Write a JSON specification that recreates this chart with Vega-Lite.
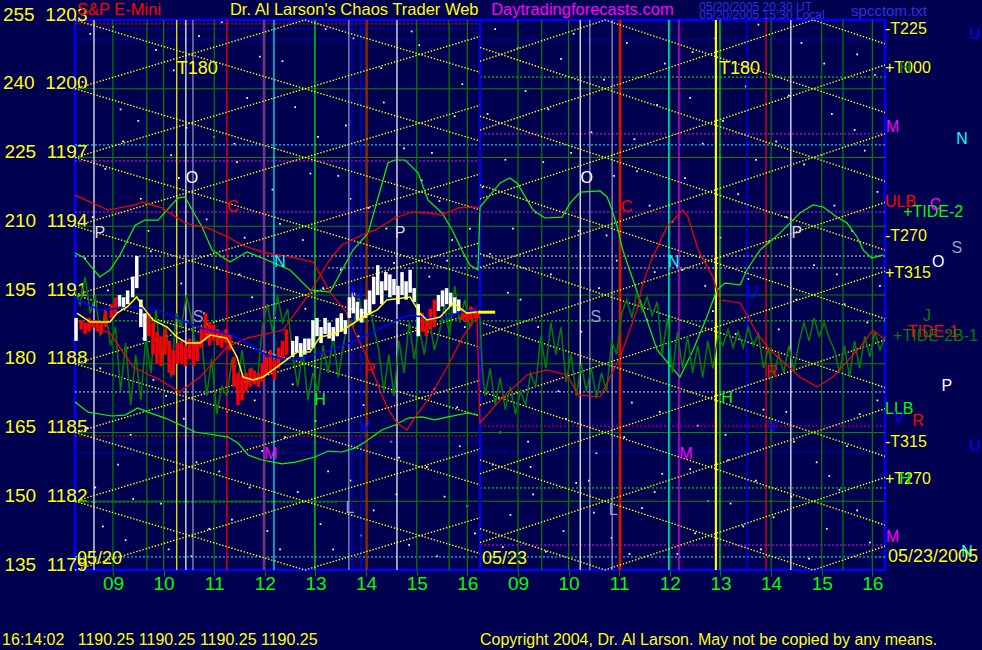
{
"$schema": "https://vega.github.io/schema/vega-lite/v6.json",
"width": 810, "height": 550,
"autosize": {"type": "none"},
"padding": {"left": 75, "top": 20, "right": 97, "bottom": 80},
"background": "#000050",
"config": {"view": {"stroke": "#0000ff", "strokeWidth": 2.5}, "font": "Liberation Sans", "text": {"font": "Liberation Sans"}},
"resolve": {"axis": {"x": "independent", "y": "independent"}},
"datasets": {
"stars": [{"t":0.3,"p":1202.4},{"t":0.9,"p":1199.1},{"t":1.6,"p":1201.7},{"t":2.2,"p":1198.3},{"t":2.9,"p":1202.9},{"t":3.4,"p":1199.6},{"t":4.1,"p":1201.2},{"t":4.8,"p":1197.9},{"t":5.5,"p":1202.2},{"t":6.1,"p":1199.4},{"t":6.8,"p":1201.9},{"t":7.5,"p":1198.8},{"t":8.3,"p":1202.6},{"t":8.9,"p":1199.9},{"t":9.6,"p":1201.3},{"t":10.2,"p":1198.1},{"t":10.9,"p":1202.0},{"t":11.5,"p":1199.3},{"t":12.2,"p":1201.6},{"t":12.8,"p":1198.6},{"t":13.5,"p":1202.8},{"t":14.1,"p":1199.7},{"t":14.8,"p":1201.1},{"t":15.4,"p":1198.2},{"t":15.8,"p":1200.6},
{"t":0.6,"p":1196.5},{"t":1.3,"p":1195.2},{"t":1.9,"p":1197.1},{"t":2.6,"p":1194.3},{"t":3.2,"p":1196.8},{"t":3.9,"p":1195.6},{"t":4.5,"p":1193.4},{"t":5.2,"p":1196.2},{"t":5.8,"p":1194.8},{"t":6.5,"p":1197.4},{"t":7.2,"p":1195.1},{"t":7.8,"p":1193.9},{"t":8.5,"p":1196.9},{"t":9.1,"p":1194.6},{"t":9.8,"p":1197.2},{"t":10.5,"p":1193.6},{"t":11.1,"p":1196.4},{"t":11.8,"p":1194.2},{"t":12.4,"p":1197.6},{"t":13.1,"p":1195.4},{"t":13.7,"p":1193.3},{"t":14.4,"p":1196.7},{"t":15.0,"p":1194.9},{"t":15.6,"p":1197.3},
{"t":0.2,"p":1192.6},{"t":0.8,"p":1190.4},{"t":1.5,"p":1192.9},{"t":2.1,"p":1191.5},{"t":2.8,"p":1192.2},{"t":3.5,"p":1190.9},{"t":4.2,"p":1192.7},{"t":4.9,"p":1191.3},{"t":5.6,"p":1189.2},{"t":6.3,"p":1192.4},{"t":7.0,"p":1191.8},{"t":7.7,"p":1189.6},{"t":8.2,"p":1192.8},{"t":8.8,"p":1190.8},{"t":9.4,"p":1191.9},{"t":10.0,"p":1189.4},{"t":10.7,"p":1192.5},{"t":11.3,"p":1189.9},{"t":12.0,"p":1192.1},{"t":12.6,"p":1190.3},{"t":13.3,"p":1191.7},{"t":13.9,"p":1189.5},{"t":14.6,"p":1192.3},{"t":15.2,"p":1190.6},{"t":15.9,"p":1191.4},
{"t":0.5,"p":1187.8},{"t":1.1,"p":1184.9},{"t":1.8,"p":1186.6},{"t":2.4,"p":1183.7},{"t":3.0,"p":1185.9},{"t":3.7,"p":1184.2},{"t":4.3,"p":1187.1},{"t":5.0,"p":1183.3},{"t":5.7,"p":1186.2},{"t":6.4,"p":1183.9},{"t":7.1,"p":1186.9},{"t":7.6,"p":1184.4},{"t":8.4,"p":1185.0},{"t":9.0,"p":1183.5},{"t":9.7,"p":1185.6},{"t":10.3,"p":1184.1},{"t":11.0,"p":1186.3},{"t":11.6,"p":1183.2},{"t":12.3,"p":1185.3},{"t":12.9,"p":1183.8},{"t":13.6,"p":1186.0},{"t":14.2,"p":1184.6},{"t":14.9,"p":1183.1},{"t":15.5,"p":1185.8},
{"t":0.4,"p":1182.6},{"t":1.0,"p":1180.3},{"t":1.7,"p":1181.9},{"t":2.3,"p":1179.6},{"t":3.1,"p":1181.2},{"t":3.8,"p":1180.7},{"t":4.4,"p":1182.4},{"t":5.1,"p":1179.9},{"t":5.9,"p":1181.6},{"t":6.6,"p":1180.1},{"t":7.3,"p":1182.2},{"t":7.9,"p":1180.6},{"t":8.6,"p":1181.4},{"t":9.3,"p":1179.8},{"t":9.9,"p":1182.8},{"t":10.6,"p":1180.4},{"t":11.2,"p":1181.7},{"t":11.9,"p":1179.7},{"t":12.5,"p":1182.0},{"t":13.2,"p":1180.9},{"t":13.8,"p":1181.3},{"t":14.5,"p":1179.5},{"t":15.1,"p":1182.5},{"t":15.7,"p":1180.2},
{"t":0.15,"p":1200.3},{"t":0.75,"p":1202.7},{"t":1.25,"p":1198.6},{"t":1.95,"p":1200.8},{"t":2.45,"p":1202.3},{"t":3.15,"p":1197.6},{"t":3.65,"p":1201.4},{"t":4.35,"p":1199.2},{"t":4.95,"p":1202.6},{"t":5.35,"p":1198.4},{"t":6.05,"p":1200.9},{"t":6.65,"p":1202.5},{"t":7.05,"p":1197.2},{"t":7.65,"p":1200.2},{"t":8.15,"p":1198.9},{"t":8.75,"p":1201.8},{"t":9.35,"p":1199.1},{"t":9.85,"p":1202.4},{"t":10.45,"p":1200.4},{"t":11.05,"p":1197.8},{"t":11.65,"p":1201.1},{"t":12.15,"p":1199.6},{"t":12.65,"p":1202.2},{"t":13.25,"p":1200.1},{"t":13.85,"p":1197.7},{"t":14.35,"p":1202.0},{"t":14.95,"p":1198.9},{"t":15.45,"p":1201.5},
{"t":0.35,"p":1194.4},{"t":0.95,"p":1197.7},{"t":1.45,"p":1193.8},{"t":2.05,"p":1196.1},{"t":2.75,"p":1197.9},{"t":3.35,"p":1193.5},{"t":4.05,"p":1194.1},{"t":4.65,"p":1196.3},{"t":5.45,"p":1195.2},{"t":6.15,"p":1193.9},{"t":6.85,"p":1196.0},{"t":7.45,"p":1193.4},{"t":8.05,"p":1195.7},{"t":8.65,"p":1193.9},{"t":9.25,"p":1196.8},{"t":9.95,"p":1193.8},{"t":10.65,"p":1196.2},{"t":11.35,"p":1194.9},{"t":12.05,"p":1196.1},{"t":12.75,"p":1193.5},{"t":13.45,"p":1196.9},{"t":14.05,"p":1194.4},{"t":14.75,"p":1197.1},{"t":15.35,"p":1193.8},{"t":15.85,"p":1195.5},
{"t":0.65,"p":1191.2},{"t":1.35,"p":1189.1},{"t":2.55,"p":1190.2},{"t":3.25,"p":1191.9},{"t":3.95,"p":1190.0},{"t":4.55,"p":1190.4},{"t":5.25,"p":1192.1},{"t":6.75,"p":1190.6},{"t":7.35,"p":1192.5},{"t":8.55,"p":1191.1},{"t":9.15,"p":1189.6},{"t":10.35,"p":1191.3},{"t":11.45,"p":1192.0},{"t":12.45,"p":1191.4},{"t":13.05,"p":1189.3},{"t":14.25,"p":1190.8},{"t":15.05,"p":1191.9},{"t":15.65,"p":1189.8},
{"t":0.25,"p":1185.2},{"t":0.85,"p":1183.6},{"t":1.55,"p":1187.3},{"t":2.15,"p":1185.6},{"t":2.85,"p":1183.3},{"t":3.55,"p":1186.4},{"t":4.15,"p":1184.8},{"t":4.75,"p":1185.5},{"t":5.45,"p":1182.9},{"t":6.25,"p":1184.6},{"t":6.95,"p":1183.5},{"t":7.55,"p":1186.1},{"t":8.25,"p":1183.6},{"t":8.95,"p":1184.6},{"t":9.55,"p":1186.8},{"t":10.15,"p":1182.9},{"t":10.85,"p":1184.8},{"t":11.55,"p":1185.9},{"t":12.15,"p":1183.4},{"t":12.85,"p":1184.9},{"t":13.45,"p":1182.9},{"t":14.05,"p":1185.9},{"t":14.65,"p":1183.7},{"t":15.25,"p":1184.4},{"t":15.85,"p":1186.4},
{"t":0.55,"p":1180.9},{"t":1.15,"p":1182.1},{"t":1.85,"p":1179.9},{"t":2.65,"p":1180.8},{"t":3.45,"p":1182.6},{"t":4.05,"p":1179.9},{"t":4.85,"p":1181.0},{"t":5.65,"p":1180.5},{"t":6.35,"p":1182.3},{"t":7.15,"p":1179.6},{"t":7.75,"p":1181.8},{"t":8.45,"p":1180.0},{"t":9.05,"p":1182.3},{"t":9.65,"p":1180.7},{"t":10.25,"p":1181.5},{"t":10.95,"p":1179.7},{"t":11.45,"p":1182.4},{"t":12.25,"p":1180.6},{"t":12.95,"p":1181.9},{"t":13.55,"p":1179.9},{"t":14.15,"p":1182.2},{"t":14.85,"p":1180.8},{"t":15.45,"p":1181.6}],
"vrules": [{"t":0.75,"c":"dkgreen"},{"t":1.42,"c":"dkgreen"},{"t":1.75,"c":"dkgreen"},{"t":2.75,"c":"dkgreen"},{"t":3.75,"c":"dkgreen"},{"t":5.75,"c":"dkgreen"},{"t":6.75,"c":"dkgreen"},{"t":7.39,"c":"dkgreen"},{"t":7.75,"c":"dkgreen"},{"t":8.75,"c":"dkgreen"},{"t":9.22,"c":"dkgreen"},{"t":9.75,"c":"dkgreen"},{"t":10.75,"c":"dkgreen"},{"t":11.75,"c":"dkgreen"},{"t":13.75,"c":"dkgreen"},{"t":14.75,"c":"dkgreen"},{"t":15.17,"c":"dkgreen"},{"t":15.75,"c":"dkgreen"},
{"t":0.375,"c":"white"},{"t":2.01,"c":"yellow"},{"t":2.19,"c":"white"},{"t":2.33,"c":"grey"},{"t":3.0,"c":"red"},{"t":3.73,"c":"magenta"},{"t":3.93,"c":"cyan"},{"t":4.74,"c":"green"},{"t":5.41,"c":"grey"},{"t":5.47,"c":"blue"},{"t":5.65,"c":"blue"},{"t":5.77,"c":"red"},{"t":6.36,"c":"white"},{"t":8.0,"c":"blue"},{"t":9.98,"c":"white"},{"t":10.17,"c":"grey"},{"t":10.61,"c":"grey"},{"t":10.77,"c":"red"},{"t":11.73,"c":"cyan"},{"t":11.93,"c":"magenta"},{"t":12.66,"c":"yellow"},{"t":12.74,"c":"green"},{"t":13.27,"c":"blue"},{"t":13.65,"c":"red"},{"t":14.14,"c":"white"}],
"thick": [{"t":8.0,"c":"blue"},{"t":10.77,"c":"red"},{"t":12.66,"c":"yellow"}],
"hdots": [{"t0":0,"t1":8,"p":1202.83,"c":"red"},{"t0":0,"t1":8,"p":1202.61,"c":"blue"},{"t0":0,"t1":16,"p":1202.13,"c":"blue"},{"t0":8,"t1":16,"p":1200.51,"c":"green"},{"t0":0,"t1":16,"p":1197.55,"c":"cyan"},{"t0":0,"t1":8,"p":1196.85,"c":"magenta"},{"t0":8,"t1":16,"p":1198.03,"c":"magenta"},{"t0":0,"t1":16,"p":1194.62,"c":"magenta"},{"t0":0,"t1":16,"p":1192.7,"c":"ltgrey"},{"t0":5,"t1":16,"p":1192.18,"c":"ltgrey"},{"t0":0,"t1":16,"p":1189.87,"c":"green"},{"t0":0,"t1":16,"p":1186.77,"c":"ltgrey"},{"t0":0,"t1":8,"p":1184.85,"c":"red"},{"t0":0,"t1":8,"p":1184.59,"c":"blue"},{"t0":0,"t1":8,"p":1184.11,"c":"blue"},{"t0":8,"t1":16,"p":1185.37,"c":"blue"},{"t0":8,"t1":16,"p":1185.28,"c":"red"},{"t0":8,"t1":16,"p":1184.15,"c":"blue"},{"t0":8,"t1":16,"p":1182.58,"c":"green"},{"t0":0,"t1":5.2,"p":1181.97,"c":"green"},{"t0":8,"t1":16,"p":1180.09,"c":"magenta"},{"t0":0,"t1":16,"p":1179.57,"c":"cyan"}],
"grid": [{"p":1182},{"p":1185},{"p":1188},{"p":1191},{"p":1194},{"p":1197},{"p":1200}],
"lattice": [
{"k":"a03x","t":0,"p":1203},{"k":"a03x","t":4.54,"p":1200},{"k":"a03x","t":8,"p":1202.28},{"k":"a03y","t":0,"p":1200},{"k":"a03y","t":4.54,"p":1203},{"k":"a03y","t":8,"p":1200.72},{"k":"b03x","t":8,"p":1201.2},{"k":"b03x","t":10.47,"p":1203},{"k":"b03x","t":14.58,"p":1200},{"k":"b03x","t":16,"p":1201.04},{"k":"b03y","t":8,"p":1201.8},{"k":"b03y","t":10.47,"p":1200},{"k":"b03y","t":14.58,"p":1203},{"k":"b03y","t":16,"p":1201.96},
{"k":"a00x","t":0,"p":1200},{"k":"a00x","t":4.54,"p":1197},{"k":"a00x","t":8,"p":1199.28},{"k":"a00y","t":0,"p":1197},{"k":"a00y","t":4.54,"p":1200},{"k":"a00y","t":8,"p":1197.72},{"k":"b00x","t":8,"p":1198.2},{"k":"b00x","t":10.47,"p":1200},{"k":"b00x","t":14.58,"p":1197},{"k":"b00x","t":16,"p":1198.04},{"k":"b00y","t":8,"p":1198.8},{"k":"b00y","t":10.47,"p":1197},{"k":"b00y","t":14.58,"p":1200},{"k":"b00y","t":16,"p":1198.96},
{"k":"a97x","t":0,"p":1197},{"k":"a97x","t":4.54,"p":1194},{"k":"a97x","t":8,"p":1196.28},{"k":"a97y","t":0,"p":1194},{"k":"a97y","t":4.54,"p":1197},{"k":"a97y","t":8,"p":1194.72},{"k":"b97x","t":8,"p":1195.2},{"k":"b97x","t":10.47,"p":1197},{"k":"b97x","t":14.58,"p":1194},{"k":"b97x","t":16,"p":1195.04},{"k":"b97y","t":8,"p":1195.8},{"k":"b97y","t":10.47,"p":1194},{"k":"b97y","t":14.58,"p":1197},{"k":"b97y","t":16,"p":1195.96},
{"k":"a94x","t":0,"p":1194},{"k":"a94x","t":4.54,"p":1191},{"k":"a94x","t":8,"p":1193.28},{"k":"a94y","t":0,"p":1191},{"k":"a94y","t":4.54,"p":1194},{"k":"a94y","t":8,"p":1191.72},{"k":"b94x","t":8,"p":1192.2},{"k":"b94x","t":10.47,"p":1194},{"k":"b94x","t":14.58,"p":1191},{"k":"b94x","t":16,"p":1192.04},{"k":"b94y","t":8,"p":1192.8},{"k":"b94y","t":10.47,"p":1191},{"k":"b94y","t":14.58,"p":1194},{"k":"b94y","t":16,"p":1192.96},
{"k":"a91x","t":0,"p":1191},{"k":"a91x","t":4.54,"p":1188},{"k":"a91x","t":8,"p":1190.28},{"k":"a91y","t":0,"p":1188},{"k":"a91y","t":4.54,"p":1191},{"k":"a91y","t":8,"p":1188.72},{"k":"b91x","t":8,"p":1189.2},{"k":"b91x","t":10.47,"p":1191},{"k":"b91x","t":14.58,"p":1188},{"k":"b91x","t":16,"p":1189.04},{"k":"b91y","t":8,"p":1189.8},{"k":"b91y","t":10.47,"p":1188},{"k":"b91y","t":14.58,"p":1191},{"k":"b91y","t":16,"p":1189.96},
{"k":"a88x","t":0,"p":1188},{"k":"a88x","t":4.54,"p":1185},{"k":"a88x","t":8,"p":1187.28},{"k":"a88y","t":0,"p":1185},{"k":"a88y","t":4.54,"p":1188},{"k":"a88y","t":8,"p":1185.72},{"k":"b88x","t":8,"p":1186.2},{"k":"b88x","t":10.47,"p":1188},{"k":"b88x","t":14.58,"p":1185},{"k":"b88x","t":16,"p":1186.04},{"k":"b88y","t":8,"p":1186.8},{"k":"b88y","t":10.47,"p":1185},{"k":"b88y","t":14.58,"p":1188},{"k":"b88y","t":16,"p":1186.96},
{"k":"a85x","t":0,"p":1185},{"k":"a85x","t":4.54,"p":1182},{"k":"a85x","t":8,"p":1184.28},{"k":"a85y","t":0,"p":1182},{"k":"a85y","t":4.54,"p":1185},{"k":"a85y","t":8,"p":1182.72},{"k":"b85x","t":8,"p":1183.2},{"k":"b85x","t":10.47,"p":1185},{"k":"b85x","t":14.58,"p":1182},{"k":"b85x","t":16,"p":1183.04},{"k":"b85y","t":8,"p":1183.8},{"k":"b85y","t":10.47,"p":1182},{"k":"b85y","t":14.58,"p":1185},{"k":"b85y","t":16,"p":1183.96},
{"k":"a82x","t":0,"p":1182},{"k":"a82x","t":4.54,"p":1179},{"k":"a82x","t":8,"p":1181.28},{"k":"a82y","t":0,"p":1179},{"k":"a82y","t":4.54,"p":1182},{"k":"a82y","t":8,"p":1179.72},{"k":"b82x","t":8,"p":1180.2},{"k":"b82x","t":10.47,"p":1182},{"k":"b82x","t":14.58,"p":1179},{"k":"b82x","t":16,"p":1180.04},{"k":"b82y","t":8,"p":1180.8},{"k":"b82y","t":10.47,"p":1179},{"k":"b82y","t":14.58,"p":1182},{"k":"b82y","t":16,"p":1180.96}],
"dkg": [{"t":0.0,"p":1191.2},{"t":0.1,"p":1190.6},{"t":0.2,"p":1191.8},{"t":0.3,"p":1190.2},{"t":0.4,"p":1191.0},{"t":0.5,"p":1189.2},{"t":0.6,"p":1190.4},{"t":0.7,"p":1188.8},{"t":0.8,"p":1189.6},{"t":0.9,"p":1186.8},{"t":1.0,"p":1188.9},{"t":1.1,"p":1186.2},{"t":1.2,"p":1188.4},{"t":1.3,"p":1186.4},{"t":1.4,"p":1189.2},{"t":1.5,"p":1187.6},{"t":1.6,"p":1190.4},{"t":1.7,"p":1188.0},{"t":1.8,"p":1189.6},{"t":1.9,"p":1187.4},{"t":2.0,"p":1190.2},{"t":2.1,"p":1189.6},{"t":2.2,"p":1191.0},{"t":2.3,"p":1190.0},{"t":2.4,"p":1188.4},{"t":2.5,"p":1189.2},{"t":2.6,"p":1186.6},{"t":2.7,"p":1188.2},{"t":2.8,"p":1185.8},{"t":2.9,"p":1187.0},{"t":3.0,"p":1186.6},{"t":3.1,"p":1188.2},{"t":3.2,"p":1186.8},{"t":3.3,"p":1188.6},{"t":3.4,"p":1187.0},{"t":3.5,"p":1187.8},{"t":3.6,"p":1187.2},{"t":3.7,"p":1189.6},{"t":3.8,"p":1190.6},{"t":3.9,"p":1189.4},{"t":4.0,"p":1191.0},{"t":4.1,"p":1189.8},{"t":4.2,"p":1190.4},{"t":4.3,"p":1188.4},{"t":4.4,"p":1187.0},{"t":4.5,"p":1188.6},{"t":4.6,"p":1186.4},{"t":4.7,"p":1187.6},{"t":4.8,"p":1186.8},{"t":4.9,"p":1188.8},{"t":5.0,"p":1187.6},{"t":5.1,"p":1189.2},{"t":5.2,"p":1187.4},{"t":5.3,"p":1188.8},{"t":5.4,"p":1190.0},{"t":5.5,"p":1189.6},{"t":5.6,"p":1191.0},{"t":5.7,"p":1189.8},{"t":5.8,"p":1190.8},{"t":5.9,"p":1189.6},{"t":6.0,"p":1188.6},{"t":6.1,"p":1186.8},{"t":6.2,"p":1188.4},{"t":6.3,"p":1186.6},{"t":6.4,"p":1189.0},{"t":6.5,"p":1187.6},{"t":6.6,"p":1189.8},{"t":6.7,"p":1188.2},{"t":6.8,"p":1189.6},{"t":6.9,"p":1188.4},{"t":7.0,"p":1189.9},{"t":7.1,"p":1188.6},{"t":7.2,"p":1189.4},{"t":7.3,"p":1190.6},{"t":7.4,"p":1189.2},{"t":7.5,"p":1191.4},{"t":7.6,"p":1189.8},{"t":7.7,"p":1190.8},{"t":7.8,"p":1189.6},{"t":7.9,"p":1190.2},{"t":8.0,"p":1190.0},{"t":8.05,"p":1187.6},{"t":8.1,"p":1186.6},{"t":8.2,"p":1187.8},{"t":8.3,"p":1186.2},{"t":8.4,"p":1187.4},{"t":8.5,"p":1186.0},{"t":8.6,"p":1187.0},{"t":8.7,"p":1185.8},{"t":8.8,"p":1186.8},{"t":8.9,"p":1186.2},{"t":9.0,"p":1187.6},{"t":9.1,"p":1187.0},{"t":9.2,"p":1189.2},{"t":9.3,"p":1187.8},{"t":9.4,"p":1189.8},{"t":9.5,"p":1188.4},{"t":9.6,"p":1189.6},{"t":9.7,"p":1187.2},{"t":9.8,"p":1188.4},{"t":9.9,"p":1186.6},{"t":10.0,"p":1188.0},{"t":10.1,"p":1186.8},{"t":10.2,"p":1187.8},{"t":10.3,"p":1186.5},{"t":10.4,"p":1187.6},{"t":10.5,"p":1186.8},{"t":10.6,"p":1189.0},{"t":10.7,"p":1188.4},{"t":10.8,"p":1190.2},{"t":10.9,"p":1190.8},{"t":11.0,"p":1190.0},{"t":11.1,"p":1191.1},{"t":11.2,"p":1190.3},{"t":11.3,"p":1190.9},{"t":11.4,"p":1190.1},{"t":11.5,"p":1190.7},{"t":11.6,"p":1188.4},{"t":11.7,"p":1190.0},{"t":11.8,"p":1187.6},{"t":11.9,"p":1189.4},{"t":12.0,"p":1187.8},{"t":12.1,"p":1189.2},{"t":12.2,"p":1187.6},{"t":12.3,"p":1188.8},{"t":12.4,"p":1187.4},{"t":12.5,"p":1189.0},{"t":12.6,"p":1187.8},{"t":12.7,"p":1189.2},{"t":12.8,"p":1188.8},{"t":12.9,"p":1189.5},{"t":13.0,"p":1188.7},{"t":13.1,"p":1189.4},{"t":13.2,"p":1188.7},{"t":13.3,"p":1189.6},{"t":13.4,"p":1188.8},{"t":13.5,"p":1189.3},{"t":13.6,"p":1187.8},{"t":13.7,"p":1188.7},{"t":13.8,"p":1187.5},{"t":13.9,"p":1188.4},{"t":14.0,"p":1187.6},{"t":14.1,"p":1188.8},{"t":14.2,"p":1187.7},{"t":14.3,"p":1188.9},{"t":14.4,"p":1189.8},{"t":14.5,"p":1189.0},{"t":14.6,"p":1190.0},{"t":14.7,"p":1189.2},{"t":14.8,"p":1189.8},{"t":14.9,"p":1189.1},{"t":15.0,"p":1188.6},{"t":15.1,"p":1187.6},{"t":15.2,"p":1188.8},{"t":15.3,"p":1187.4},{"t":15.4,"p":1189.0},{"t":15.5,"p":1187.8},{"t":15.6,"p":1189.2},{"t":15.7,"p":1188.3},{"t":15.8,"p":1189.4},{"t":15.9,"p":1188.6},{"t":16.0,"p":1189.2}],
"redA": [{"t":0,"p":1195.36},{"t":0.65,"p":1194.71},{"t":1.19,"p":1194.93},{"t":1.32,"p":1195.06},{"t":1.72,"p":1194.8},{"t":2.17,"p":1194.14},{"t":2.63,"p":1193.92},{"t":3.02,"p":1193.53},{"t":3.3,"p":1193.18},{"t":3.69,"p":1192.88},{"t":4.25,"p":1192.66},{"t":4.7,"p":1192.44},{"t":5.04,"p":1191.13},{"t":5.37,"p":1190.21},{"t":5.57,"p":1189.17},{"t":5.77,"p":1188.29},{"t":5.97,"p":1187.16},{"t":6.16,"p":1186.11},{"t":6.36,"p":1185.42},{"t":6.56,"p":1185.11},{"t":6.68,"p":1185.55},{"t":7.01,"p":1186.55},{"t":7.35,"p":1187.86},{"t":7.66,"p":1189.17},{"t":7.94,"p":1190.04},{"t":8.0,"p":1185.42},{"t":8.4,"p":1186.42},{"t":8.93,"p":1187.51},{"t":9.32,"p":1187.73},{"t":9.72,"p":1187.51},{"t":9.94,"p":1186.64},{"t":10.37,"p":1186.55},{"t":10.77,"p":1188.29},{"t":11.1,"p":1190.35},{"t":11.22,"p":1191.52},{"t":11.36,"p":1192.4},{"t":11.69,"p":1193.97},{"t":12.01,"p":1194.71},{"t":12.11,"p":1194.4},{"t":12.31,"p":1192.96},{"t":12.6,"p":1191.79},{"t":12.74,"p":1190.78},{"t":13.14,"p":1190.65},{"t":13.47,"p":1189.34},{"t":13.73,"p":1188.6},{"t":14.32,"p":1187.42},{"t":14.66,"p":1186.99},{"t":14.97,"p":1187.42},{"t":15.51,"p":1188.73},{"t":15.76,"p":1189.47},{"t":15.96,"p":1189.12}],
"redB": [{"t":0,"p":1189.91},{"t":0.69,"p":1189.34},{"t":1.15,"p":1187.86},{"t":1.68,"p":1187.29},{"t":2.07,"p":1186.77},{"t":2.47,"p":1187.42},{"t":3.0,"p":1188.73},{"t":3.4,"p":1189.12},{"t":4.11,"p":1189.47},{"t":4.64,"p":1191.09},{"t":5.0,"p":1192.44},{"t":5.27,"p":1193.18},{"t":5.67,"p":1193.62},{"t":5.93,"p":1193.84},{"t":6.32,"p":1194.36},{"t":6.66,"p":1194.62},{"t":6.97,"p":1194.58},{"t":7.25,"p":1194.49},{"t":7.57,"p":1194.8},{"t":8.0,"p":1194.84}],
"grn": [{"t":0,"p":1192.83},{"t":0.16,"p":1192.66},{"t":0.49,"p":1191.79},{"t":0.69,"p":1192.09},{"t":0.89,"p":1192.75},{"t":1.19,"p":1194.05},{"t":1.38,"p":1194.27},{"t":1.64,"p":1194.27},{"t":2.03,"p":1195.23},{"t":2.17,"p":1195.28},{"t":2.51,"p":1193.97},{"t":2.71,"p":1192.96},{"t":3.06,"p":1192.44},{"t":3.4,"p":1192.88},{"t":3.79,"p":1192.53},{"t":4.25,"p":1192.09},{"t":4.64,"p":1191.22},{"t":5.04,"p":1191.13},{"t":5.49,"p":1192.96},{"t":5.79,"p":1193.71},{"t":6.18,"p":1196.76},{"t":6.32,"p":1196.89},{"t":6.52,"p":1196.89},{"t":6.78,"p":1196.32},{"t":6.97,"p":1195.15},{"t":7.25,"p":1194.58},{"t":7.45,"p":1193.84},{"t":7.64,"p":1192.96},{"t":7.8,"p":1192.31},{"t":7.96,"p":1192.09},{"t":8.0,"p":1194.84},{"t":8.4,"p":1195.89},{"t":8.59,"p":1196.11},{"t":8.73,"p":1195.89},{"t":8.93,"p":1195.15},{"t":9.05,"p":1194.71},{"t":9.28,"p":1194.36},{"t":9.62,"p":1194.4},{"t":9.78,"p":1195.01},{"t":9.98,"p":1195.49},{"t":10.37,"p":1195.54},{"t":10.51,"p":1195.28},{"t":10.61,"p":1194.71},{"t":10.71,"p":1193.97},{"t":10.82,"p":1192.96},{"t":11.16,"p":1190.78},{"t":11.5,"p":1188.6},{"t":11.95,"p":1187.42},{"t":12.21,"p":1188.6},{"t":12.48,"p":1190.04},{"t":12.68,"p":1191.22},{"t":12.84,"p":1191.52},{"t":13.14,"p":1191.44},{"t":13.27,"p":1192.09},{"t":13.53,"p":1192.96},{"t":13.93,"p":1193.71},{"t":14.32,"p":1194.58},{"t":14.58,"p":1194.93},{"t":14.78,"p":1194.84},{"t":15.05,"p":1194.4},{"t":15.25,"p":1194.14},{"t":15.45,"p":1193.53},{"t":15.57,"p":1192.96},{"t":15.74,"p":1192.61},{"t":15.96,"p":1192.75}],
"grn3": [{"t":0,"p":1186.33},{"t":0.26,"p":1185.89},{"t":0.73,"p":1185.72},{"t":0.99,"p":1185.76},{"t":1.24,"p":1186.07},{"t":1.44,"p":1185.89},{"t":1.78,"p":1185.63},{"t":2.17,"p":1185.24},{"t":2.37,"p":1185.02},{"t":2.77,"p":1184.89},{"t":3.02,"p":1184.8},{"t":3.22,"p":1184.54},{"t":3.42,"p":1184.02},{"t":3.69,"p":1183.8},{"t":4.09,"p":1183.63},{"t":4.35,"p":1183.71},{"t":4.74,"p":1183.93},{"t":5.0,"p":1184.19},{"t":5.27,"p":1184.15},{"t":5.53,"p":1184.32},{"t":5.73,"p":1184.59},{"t":6.06,"p":1185.11},{"t":6.32,"p":1185.33},{"t":6.58,"p":1185.63},{"t":6.85,"p":1185.68},{"t":7.11,"p":1185.55},{"t":7.37,"p":1185.68},{"t":7.76,"p":1185.85},{"t":7.96,"p":1185.76}],
"bars": [{"t":0.02,"lo":1189.0,"hi":1190.0,"d":"up"},{"t":0.12,"lo":1189.5,"hi":1189.9,"d":"dn"},{"t":0.2,"lo":1189.3,"hi":1189.8,"d":"dn"},{"t":0.28,"lo":1189.4,"hi":1190.0,"d":"dn"},{"t":0.36,"lo":1189.6,"hi":1189.9,"d":"dn"},{"t":0.44,"lo":1189.4,"hi":1189.9,"d":"dn"},{"t":0.52,"lo":1189.3,"hi":1189.8,"d":"dn"},{"t":0.6,"lo":1189.6,"hi":1190.3,"d":"dn"},{"t":0.72,"lo":1190.0,"hi":1190.6,"d":"dn"},{"t":0.8,"lo":1190.2,"hi":1190.9,"d":"dn"},{"t":0.88,"lo":1190.5,"hi":1191.0,"d":"up"},{"t":0.96,"lo":1190.4,"hi":1190.9,"d":"up"},{"t":1.04,"lo":1190.6,"hi":1191.2,"d":"up"},{"t":1.14,"lo":1190.9,"hi":1191.8,"d":"up"},{"t":1.22,"lo":1191.3,"hi":1192.7,"d":"up"},{"t":1.3,"lo":1189.6,"hi":1190.8,"d":"up"},{"t":1.38,"lo":1189.0,"hi":1190.2,"d":"up"},{"t":1.46,"lo":1189.2,"hi":1190.2,"d":"dn"},{"t":1.54,"lo":1188.4,"hi":1189.8,"d":"dn"},{"t":1.62,"lo":1188.0,"hi":1189.4,"d":"dn"},{"t":1.7,"lo":1187.9,"hi":1189.2,"d":"dn"},{"t":1.78,"lo":1188.4,"hi":1189.5,"d":"dn"},{"t":1.86,"lo":1187.6,"hi":1189.0,"d":"dn"},{"t":1.94,"lo":1187.5,"hi":1188.6,"d":"dn"},{"t":2.02,"lo":1188.0,"hi":1188.9,"d":"dn"},{"t":2.1,"lo":1188.0,"hi":1189.0,"d":"dn"},{"t":2.18,"lo":1187.9,"hi":1188.8,"d":"dn"},{"t":2.26,"lo":1188.2,"hi":1189.1,"d":"dn"},{"t":2.34,"lo":1187.9,"hi":1188.9,"d":"dn"},{"t":2.42,"lo":1188.1,"hi":1189.0,"d":"dn"},{"t":2.5,"lo":1188.7,"hi":1189.6,"d":"dn"},{"t":2.58,"lo":1189.0,"hi":1190.2,"d":"dn"},{"t":2.66,"lo":1188.8,"hi":1189.8,"d":"dn"},{"t":2.74,"lo":1189.0,"hi":1189.7,"d":"dn"},{"t":2.82,"lo":1188.8,"hi":1189.5,"d":"dn"},{"t":2.9,"lo":1188.7,"hi":1189.4,"d":"dn"},{"t":2.98,"lo":1188.9,"hi":1189.5,"d":"dn"},{"t":3.06,"lo":1188.6,"hi":1189.3,"d":"dn"},{"t":3.14,"lo":1187.0,"hi":1188.3,"d":"dn"},{"t":3.22,"lo":1186.2,"hi":1187.6,"d":"dn"},{"t":3.3,"lo":1186.4,"hi":1187.5,"d":"dn"},{"t":3.38,"lo":1186.8,"hi":1187.6,"d":"dn"},{"t":3.46,"lo":1187.0,"hi":1187.8,"d":"dn"},{"t":3.54,"lo":1187.1,"hi":1187.7,"d":"dn"},{"t":3.62,"lo":1187.0,"hi":1187.6,"d":"dn"},{"t":3.7,"lo":1187.2,"hi":1188.0,"d":"dn"},{"t":3.78,"lo":1187.5,"hi":1188.3,"d":"dn"},{"t":3.86,"lo":1187.6,"hi":1188.6,"d":"dn"},{"t":3.94,"lo":1187.3,"hi":1188.2,"d":"dn"},{"t":4.02,"lo":1187.8,"hi":1188.7,"d":"dn"},{"t":4.1,"lo":1188.2,"hi":1189.0,"d":"dn"},{"t":4.18,"lo":1188.4,"hi":1189.5,"d":"dn"},{"t":4.3,"lo":1188.3,"hi":1189.0,"d":"up"},{"t":4.38,"lo":1188.5,"hi":1189.2,"d":"up"},{"t":4.46,"lo":1188.3,"hi":1188.9,"d":"up"},{"t":4.54,"lo":1188.4,"hi":1189.1,"d":"up"},{"t":4.62,"lo":1188.6,"hi":1189.1,"d":"up"},{"t":4.7,"lo":1188.7,"hi":1189.9,"d":"up"},{"t":4.78,"lo":1189.2,"hi":1190.0,"d":"up"},{"t":4.86,"lo":1188.9,"hi":1189.6,"d":"up"},{"t":4.94,"lo":1189.3,"hi":1190.0,"d":"up"},{"t":5.02,"lo":1189.1,"hi":1189.8,"d":"up"},{"t":5.1,"lo":1189.0,"hi":1189.6,"d":"up"},{"t":5.18,"lo":1189.2,"hi":1190.0,"d":"up"},{"t":5.26,"lo":1189.4,"hi":1190.2,"d":"up"},{"t":5.34,"lo":1189.3,"hi":1189.9,"d":"up"},{"t":5.42,"lo":1190.0,"hi":1190.9,"d":"up"},{"t":5.5,"lo":1190.2,"hi":1191.1,"d":"up"},{"t":5.58,"lo":1189.9,"hi":1190.7,"d":"up"},{"t":5.66,"lo":1189.8,"hi":1190.4,"d":"up"},{"t":5.74,"lo":1190.0,"hi":1190.8,"d":"up"},{"t":5.82,"lo":1190.2,"hi":1191.2,"d":"up"},{"t":5.9,"lo":1190.6,"hi":1191.8,"d":"up"},{"t":5.98,"lo":1191.0,"hi":1192.3,"d":"up"},{"t":6.06,"lo":1190.6,"hi":1191.6,"d":"up"},{"t":6.14,"lo":1191.2,"hi":1192.0,"d":"up"},{"t":6.22,"lo":1190.9,"hi":1191.9,"d":"up"},{"t":6.3,"lo":1191.0,"hi":1191.7,"d":"up"},{"t":6.38,"lo":1190.6,"hi":1191.4,"d":"up"},{"t":6.46,"lo":1191.0,"hi":1192.0,"d":"up"},{"t":6.54,"lo":1190.8,"hi":1191.6,"d":"up"},{"t":6.62,"lo":1191.1,"hi":1192.1,"d":"up"},{"t":6.7,"lo":1190.7,"hi":1191.3,"d":"up"},{"t":6.78,"lo":1189.2,"hi":1190.6,"d":"up"},{"t":6.86,"lo":1189.4,"hi":1190.2,"d":"dn"},{"t":6.94,"lo":1189.2,"hi":1189.9,"d":"dn"},{"t":7.02,"lo":1189.5,"hi":1190.4,"d":"dn"},{"t":7.1,"lo":1189.6,"hi":1190.8,"d":"dn"},{"t":7.18,"lo":1190.3,"hi":1191.0,"d":"up"},{"t":7.26,"lo":1190.5,"hi":1191.2,"d":"up"},{"t":7.34,"lo":1190.6,"hi":1191.3,"d":"up"},{"t":7.42,"lo":1190.5,"hi":1191.1,"d":"up"},{"t":7.5,"lo":1190.2,"hi":1190.9,"d":"up"},{"t":7.58,"lo":1190.3,"hi":1190.8,"d":"up"},{"t":7.66,"lo":1189.9,"hi":1190.4,"d":"dn"},{"t":7.74,"lo":1189.8,"hi":1190.3,"d":"dn"},{"t":7.82,"lo":1189.9,"hi":1190.5,"d":"dn"},{"t":7.9,"lo":1190.0,"hi":1190.4,"d":"dn"},{"t":7.96,"lo":1190.0,"hi":1190.3,"d":"dn"}],
"blue": [{"t":0.04,"p":1190.78},{"t":0.49,"p":1190.35},{"t":1.15,"p":1190.48},{"t":1.62,"p":1190.35},{"t":2.01,"p":1190.0},{"t":2.47,"p":1189.56},{"t":2.8,"p":1189.39},{"t":3.12,"p":1189.25},{"t":3.52,"p":1188.73},{"t":3.79,"p":1188.38},{"t":4.19,"p":1188.16},{"t":4.58,"p":1188.29},{"t":5.04,"p":1188.6},{"t":5.43,"p":1188.91},{"t":5.97,"p":1189.47},{"t":6.36,"p":1189.91},{"t":6.62,"p":1190.13},{"t":7.01,"p":1190.0},{"t":7.35,"p":1190.04},{"t":7.66,"p":1190.26},{"t":7.94,"p":1190.35}],
"ysm": [{"t":0.04,"p":1190.21},{"t":0.3,"p":1189.82},{"t":0.69,"p":1189.82},{"t":0.83,"p":1190.21},{"t":1.03,"p":1190.48},{"t":1.22,"p":1190.91},{"t":1.34,"p":1190.48},{"t":1.54,"p":1189.91},{"t":1.82,"p":1189.6},{"t":2.01,"p":1189.17},{"t":2.21,"p":1188.91},{"t":2.47,"p":1188.91},{"t":2.67,"p":1189.25},{"t":3.0,"p":1189.12},{"t":3.2,"p":1188.29},{"t":3.32,"p":1187.42},{"t":3.52,"p":1187.29},{"t":3.71,"p":1187.42},{"t":3.99,"p":1187.86},{"t":4.25,"p":1188.29},{"t":4.39,"p":1188.51},{"t":4.64,"p":1188.51},{"t":4.84,"p":1189.17},{"t":5.04,"p":1189.25},{"t":5.29,"p":1189.47},{"t":5.69,"p":1190.04},{"t":5.97,"p":1190.35},{"t":6.16,"p":1190.78},{"t":6.62,"p":1190.91},{"t":6.81,"p":1190.21},{"t":6.95,"p":1189.91},{"t":7.21,"p":1190.04},{"t":7.47,"p":1190.65},{"t":7.74,"p":1190.21},{"t":7.94,"p":1190.26}],
"last": [{"t0":7.96,"t1":8.3,"p":1190.25}],
"labels": [
{"g":"hdr","s":"S&P E-Mini","t":0.04,"p":1203.44,"c":"red"},
{"g":"hdr","s":"Dr. Al Larson's Chaos Trader Web","t":3.06,"p":1203.44,"c":"yellow"},
{"g":"hdr","s":"Daytradingforecasts.com","t":8.22,"p":1203.44,"c":"magenta"},
{"g":"b15","s":"spcctom.txt","t":15.33,"p":1203.39,"c":"dimblue"},
{"g":"small","s":"05/20/2005 20:30 UT","t":12.33,"p":1203.57,"c":"dimblue"},
{"g":"small","s":"05/20/2005 15:30 Local","t":12.33,"p":1203.2,"c":"dimblue"},
{"g":"right","s":"-T225","t":16.0,"p":1202.61,"c":"yellow"},
{"g":"right","s":"+T000","t":16.0,"p":1200.91,"c":"yellow"},
{"g":"right","s":"M","t":16.02,"p":1198.33,"c":"magenta"},
{"g":"right","s":"ULB","t":16.0,"p":1195.06,"c":"red"},
{"g":"right","s":"+TIDE-2","t":16.36,"p":1194.62,"c":"green"},
{"g":"right","s":"-T270","t":16.0,"p":1193.57,"c":"yellow"},
{"g":"right","s":"+T315","t":16.0,"p":1191.96,"c":"yellow"},
{"g":"right","s":"TIDE-1","t":16.45,"p":1189.4,"c":"red"},
{"g":"right","s":"+TIDE-2B-1","t":16.16,"p":1189.21,"c":"dkgreen"},
{"g":"right","s":"LLB","t":16.0,"p":1186.03,"c":"green"},
{"g":"right","s":"-T315","t":16.0,"p":1184.59,"c":"yellow"},
{"g":"right","s":"+T270","t":16.0,"p":1182.97,"c":"yellow"},
{"g":"right","s":"M","t":16.02,"p":1180.44,"c":"magenta"},
{"g":"letter","s":"U","t":17.78,"p":1202.39,"c":"blue"},
{"g":"letter","s":"H","t":16.4,"p":1200.91,"c":"dkgreen"},
{"g":"letter","s":"N","t":17.52,"p":1197.81,"c":"cyan"},
{"g":"letter","s":"C","t":17.0,"p":1194.93,"c":"magenta"},
{"g":"letter","s":"S","t":17.42,"p":1193.05,"c":"grey"},
{"g":"letter","s":"O","t":17.05,"p":1192.44,"c":"white"},
{"g":"letter","s":"J","t":16.83,"p":1190.08,"c":"dkgreen"},
{"g":"letter","s":"P","t":17.22,"p":1187.03,"c":"white"},
{"g":"letter","s":"V","t":16.28,"p":1185.63,"c":"blue"},
{"g":"letter","s":"R","t":16.65,"p":1185.5,"c":"red"},
{"g":"letter","s":"U","t":17.78,"p":1184.41,"c":"blue"},
{"g":"letter","s":"H","t":16.4,"p":1182.97,"c":"green"},
{"g":"letter","s":"N","t":17.62,"p":1179.79,"c":"cyan"},
{"g":"letter","s":"O","t":2.31,"p":1196.11,"c":"white"},
{"g":"letter","s":"O","t":10.11,"p":1196.11,"c":"white"},
{"g":"letter","s":"P","t":0.49,"p":1193.71,"c":"ltgrey"},
{"g":"letter","s":"P","t":6.42,"p":1193.71,"c":"ltgrey"},
{"g":"letter","s":"P","t":14.26,"p":1193.71,"c":"ltgrey"},
{"g":"letter","s":"C","t":3.12,"p":1194.84,"c":"red"},
{"g":"letter","s":"C","t":10.9,"p":1194.84,"c":"red"},
{"g":"letter","s":"S","t":2.43,"p":1190.04,"c":"grey"},
{"g":"letter","s":"S","t":10.29,"p":1190.04,"c":"grey"},
{"g":"letter","s":"N","t":4.05,"p":1192.44,"c":"cyan"},
{"g":"letter","s":"N","t":11.83,"p":1192.44,"c":"cyan"},
{"g":"letter","s":"H","t":4.84,"p":1186.42,"c":"green"},
{"g":"letter","s":"H","t":12.88,"p":1186.51,"c":"green"},
{"g":"letter","s":"R","t":5.83,"p":1187.73,"c":"red"},
{"g":"letter","s":"R","t":13.77,"p":1187.64,"c":"red"},
{"g":"letter","s":"M","t":3.87,"p":1184.06,"c":"magenta"},
{"g":"letter","s":"M","t":12.07,"p":1184.06,"c":"magenta"},
{"g":"letter","s":"V","t":5.73,"p":1185.24,"c":"blue"},
{"g":"letter","s":"V","t":13.79,"p":1185.24,"c":"blue"},
{"g":"letter","s":"U","t":5.57,"p":1191.09,"c":"blue"},
{"g":"letter","s":"U","t":13.39,"p":1191.09,"c":"blue"},
{"g":"letter","s":"L","t":5.43,"p":1181.7,"c":"grey"},
{"g":"letter","s":"L","t":10.63,"p":1181.62,"c":"grey"},
{"g":"big","s":"T180","t":2.01,"p":1200.86,"c":"yellow"},
{"g":"big","s":"T180","t":12.72,"p":1200.86,"c":"yellow"},
{"g":"big","s":"05/20","t":0.04,"p":1179.5,"c":"yellow"},
{"g":"big","s":"05/23","t":8.04,"p":1179.5,"c":"yellow"},
{"g":"big","s":"05/23/2005","t":16.06,"p":1179.55,"c":"yellow"},
{"g":"foot","s":"16:14:02\u00a0\u00a0\u00a01190.25 1190.25 1190.25 1190.25","t":-1.44,"p":1175.95,"c":"yellow"},
{"g":"foot","s":"Copyright 2004, Dr. Al Larson. May not be copied by any means.","t":8.0,"p":1175.95,"c":"yellow"}]
},
"layer": [
{"data": {"name": "stars"}, "mark": {"type": "square", "size": 3, "color": "#ffffff", "opacity": 1},
 "encoding": {
  "x": {"field": "t", "type": "quantitative", "scale": {"domain": [0, 16], "nice": false, "zero": false},
        "axis": {"values": [0.75,1.75,2.75,3.75,4.75,5.75,6.75,7.75,8.75,9.75,10.75,11.75,12.75,13.75,14.75,15.75], "labelExpr": "format((datum.value % 8) + 8.25, '02d')", "title": null, "grid": false, "domain": false, "tickColor": "#008000", "tickSize": 6, "labelColor": "#00ff00", "labelFontSize": 19, "labelFont": "Liberation Sans", "labelPadding": -2, "labelOverlap": false}},
  "y": {"field": "p", "type": "quantitative", "scale": {"domain": [1179, 1203], "nice": false, "zero": false},
        "axis": {"values": [1179,1182,1185,1188,1191,1194,1197,1200,1203], "labelExpr": "((datum.value - 1179) * 5 + 135) + '\u00a0\u00a0' + datum.value", "title": null, "grid": false, "domain": false, "ticks": false, "tickSize": 0, "labelColor": "#ffff00", "labelFontSize": 19, "labelFont": "Liberation Sans", "labelAlign": "right", "labelBaseline": "alphabetic", "labelPadding": -12, "labelOverlap": false}}}},
{"data": {"name": "hdots"}, "mark": {"type": "rule", "strokeDash": [2, 2], "strokeWidth": 1},
 "encoding": {"x": {"field": "t0", "type": "quantitative", "axis": null}, "x2": {"field": "t1"}, "y": {"field": "p", "type": "quantitative", "axis": null},
  "color": {"field": "c", "type": "nominal", "legend": null, "scale": {"domain": ["dkgreen","green","white","grey","ltgrey","yellow","red","magenta","cyan","blue","dimblue","up","dn"], "range": ["#008000","#00ff00","#ffffff","#9c9cc8","#d8d8d8","#ffff00","#ff0000","#ff00ff","#00ffff","#0000ff","#3030e0","#ffffff","#ff0000"]}}}},
{"data": {"name": "grid"}, "mark": {"type": "rule", "color": "#008800", "strokeWidth": 1},
 "encoding": {"y": {"field": "p", "type": "quantitative", "axis": null}}},
{"data": {"name": "vrules"}, "mark": {"type": "rule", "strokeWidth": 1.2},
 "encoding": {"x": {"field": "t", "type": "quantitative", "axis": null},
  "color": {"field": "c", "type": "nominal", "legend": null, "scale": {"domain": ["dkgreen","green","white","grey","ltgrey","yellow","red","magenta","cyan","blue","dimblue","up","dn"], "range": ["#008000","#00ff00","#ffffff","#9c9cc8","#d8d8d8","#ffff00","#ff0000","#ff00ff","#00ffff","#0000ff","#3030e0","#ffffff","#ff0000"]}}}},
{"data": {"name": "thick"}, "mark": {"type": "rule", "strokeWidth": 2.2},
 "encoding": {"x": {"field": "t", "type": "quantitative", "axis": null},
  "color": {"field": "c", "type": "nominal", "legend": null, "scale": {"domain": ["dkgreen","green","white","grey","ltgrey","yellow","red","magenta","cyan","blue","dimblue","up","dn"], "range": ["#008000","#00ff00","#ffffff","#9c9cc8","#d8d8d8","#ffff00","#ff0000","#ff00ff","#00ffff","#0000ff","#3030e0","#ffffff","#ff0000"]}}}},
{"data": {"name": "lattice"}, "mark": {"type": "line", "color": "#ffff00", "strokeWidth": 1.4, "strokeDash": [1.4, 1.8]},
 "encoding": {"x": {"field": "t", "type": "quantitative", "axis": null}, "y": {"field": "p", "type": "quantitative", "axis": null}, "detail": {"field": "k"}}},
{"data": {"name": "grn3"}, "mark": {"type": "line", "color": "#00ff00", "strokeWidth": 1.2},
 "encoding": {"x": {"field": "t", "type": "quantitative", "axis": null}, "y": {"field": "p", "type": "quantitative", "axis": null}}},
{"data": {"name": "grn"}, "mark": {"type": "line", "color": "#00ff00", "strokeWidth": 1.2},
 "encoding": {"x": {"field": "t", "type": "quantitative", "axis": null}, "y": {"field": "p", "type": "quantitative", "axis": null}}},
{"data": {"name": "dkg"}, "mark": {"type": "line", "color": "#008000", "strokeWidth": 1.5},
 "encoding": {"x": {"field": "t", "type": "quantitative", "axis": null}, "y": {"field": "p", "type": "quantitative", "axis": null}}},
{"data": {"name": "redA"}, "mark": {"type": "line", "color": "#ff0000", "strokeWidth": 1.2},
 "encoding": {"x": {"field": "t", "type": "quantitative", "axis": null}, "y": {"field": "p", "type": "quantitative", "axis": null}}},
{"data": {"name": "redB"}, "mark": {"type": "line", "color": "#ff0000", "strokeWidth": 1.2},
 "encoding": {"x": {"field": "t", "type": "quantitative", "axis": null}, "y": {"field": "p", "type": "quantitative", "axis": null}}},
{"data": {"name": "bars"}, "mark": {"type": "rule", "strokeWidth": 3.5},
 "encoding": {"x": {"field": "t", "type": "quantitative", "axis": null}, "y": {"field": "lo", "type": "quantitative", "axis": null}, "y2": {"field": "hi"},
  "color": {"field": "d", "type": "nominal", "legend": null, "scale": {"domain": ["dkgreen","green","white","grey","ltgrey","yellow","red","magenta","cyan","blue","dimblue","up","dn"], "range": ["#008000","#00ff00","#ffffff","#9c9cc8","#d8d8d8","#ffff00","#ff0000","#ff00ff","#00ffff","#0000ff","#3030e0","#ffffff","#ff0000"]}}}},
{"data": {"name": "blue"}, "mark": {"type": "line", "color": "#0000ff", "strokeWidth": 1.5},
 "encoding": {"x": {"field": "t", "type": "quantitative", "axis": null}, "y": {"field": "p", "type": "quantitative", "axis": null}}},
{"data": {"name": "ysm"}, "mark": {"type": "line", "color": "#ffff00", "strokeWidth": 1.5},
 "encoding": {"x": {"field": "t", "type": "quantitative", "axis": null}, "y": {"field": "p", "type": "quantitative", "axis": null}}},
{"data": {"name": "last"}, "mark": {"type": "rule", "color": "#ffff00", "strokeWidth": 3},
 "encoding": {"x": {"field": "t0", "type": "quantitative", "axis": null}, "x2": {"field": "t1"}, "y": {"field": "p", "type": "quantitative", "axis": null}}},
{"data": {"name": "labels"}, "transform": [{"filter": "datum.g == 'hdr'"}], "mark": {"type": "text", "fontSize": 16.5, "align": "left", "baseline": "middle"},
 "encoding": {"x": {"field": "t", "type": "quantitative", "axis": null}, "y": {"field": "p", "type": "quantitative", "axis": null}, "text": {"field": "s"},
  "color": {"field": "c", "type": "nominal", "legend": null, "scale": {"domain": ["dkgreen","green","white","grey","ltgrey","yellow","red","magenta","cyan","blue","dimblue","up","dn"], "range": ["#008000","#00ff00","#ffffff","#9c9cc8","#d8d8d8","#ffff00","#ff0000","#ff00ff","#00ffff","#0000ff","#3030e0","#ffffff","#ff0000"]}}}},
{"data": {"name": "labels"}, "transform": [{"filter": "datum.g == 'b15'"}], "mark": {"type": "text", "fontSize": 15, "align": "left", "baseline": "middle"},
 "encoding": {"x": {"field": "t", "type": "quantitative", "axis": null}, "y": {"field": "p", "type": "quantitative", "axis": null}, "text": {"field": "s"},
  "color": {"field": "c", "type": "nominal", "legend": null, "scale": {"domain": ["dkgreen","green","white","grey","ltgrey","yellow","red","magenta","cyan","blue","dimblue","up","dn"], "range": ["#008000","#00ff00","#ffffff","#9c9cc8","#d8d8d8","#ffff00","#ff0000","#ff00ff","#00ffff","#0000ff","#3030e0","#ffffff","#ff0000"]}}}},
{"data": {"name": "labels"}, "transform": [{"filter": "datum.g == 'small'"}], "mark": {"type": "text", "fontSize": 12, "align": "left", "baseline": "middle"},
 "encoding": {"x": {"field": "t", "type": "quantitative", "axis": null}, "y": {"field": "p", "type": "quantitative", "axis": null}, "text": {"field": "s"},
  "color": {"field": "c", "type": "nominal", "legend": null, "scale": {"domain": ["dkgreen","green","white","grey","ltgrey","yellow","red","magenta","cyan","blue","dimblue","up","dn"], "range": ["#008000","#00ff00","#ffffff","#9c9cc8","#d8d8d8","#ffff00","#ff0000","#ff00ff","#00ffff","#0000ff","#3030e0","#ffffff","#ff0000"]}}}},
{"data": {"name": "labels"}, "transform": [{"filter": "datum.g == 'right'"}], "mark": {"type": "text", "fontSize": 16, "align": "left", "baseline": "middle"},
 "encoding": {"x": {"field": "t", "type": "quantitative", "axis": null}, "y": {"field": "p", "type": "quantitative", "axis": null}, "text": {"field": "s"},
  "color": {"field": "c", "type": "nominal", "legend": null, "scale": {"domain": ["dkgreen","green","white","grey","ltgrey","yellow","red","magenta","cyan","blue","dimblue","up","dn"], "range": ["#008000","#00ff00","#ffffff","#9c9cc8","#d8d8d8","#ffff00","#ff0000","#ff00ff","#00ffff","#0000ff","#3030e0","#ffffff","#ff0000"]}}}},
{"data": {"name": "labels"}, "transform": [{"filter": "datum.g == 'letter'"}], "mark": {"type": "text", "fontSize": 16, "align": "center", "baseline": "middle"},
 "encoding": {"x": {"field": "t", "type": "quantitative", "axis": null}, "y": {"field": "p", "type": "quantitative", "axis": null}, "text": {"field": "s"},
  "color": {"field": "c", "type": "nominal", "legend": null, "scale": {"domain": ["dkgreen","green","white","grey","ltgrey","yellow","red","magenta","cyan","blue","dimblue","up","dn"], "range": ["#008000","#00ff00","#ffffff","#9c9cc8","#d8d8d8","#ffff00","#ff0000","#ff00ff","#00ffff","#0000ff","#3030e0","#ffffff","#ff0000"]}}}},
{"data": {"name": "labels"}, "transform": [{"filter": "datum.g == 'big'"}], "mark": {"type": "text", "fontSize": 18, "align": "left", "baseline": "middle"},
 "encoding": {"x": {"field": "t", "type": "quantitative", "axis": null}, "y": {"field": "p", "type": "quantitative", "axis": null}, "text": {"field": "s"},
  "color": {"field": "c", "type": "nominal", "legend": null, "scale": {"domain": ["dkgreen","green","white","grey","ltgrey","yellow","red","magenta","cyan","blue","dimblue","up","dn"], "range": ["#008000","#00ff00","#ffffff","#9c9cc8","#d8d8d8","#ffff00","#ff0000","#ff00ff","#00ffff","#0000ff","#3030e0","#ffffff","#ff0000"]}}}},
{"data": {"name": "labels"}, "transform": [{"filter": "datum.g == 'foot'"}], "mark": {"type": "text", "fontSize": 16, "align": "left", "baseline": "middle"},
 "encoding": {"x": {"field": "t", "type": "quantitative", "axis": null}, "y": {"field": "p", "type": "quantitative", "axis": null}, "text": {"field": "s"},
  "color": {"field": "c", "type": "nominal", "legend": null, "scale": {"domain": ["dkgreen","green","white","grey","ltgrey","yellow","red","magenta","cyan","blue","dimblue","up","dn"], "range": ["#008000","#00ff00","#ffffff","#9c9cc8","#d8d8d8","#ffff00","#ff0000","#ff00ff","#00ffff","#0000ff","#3030e0","#ffffff","#ff0000"]}}}}
]
}
